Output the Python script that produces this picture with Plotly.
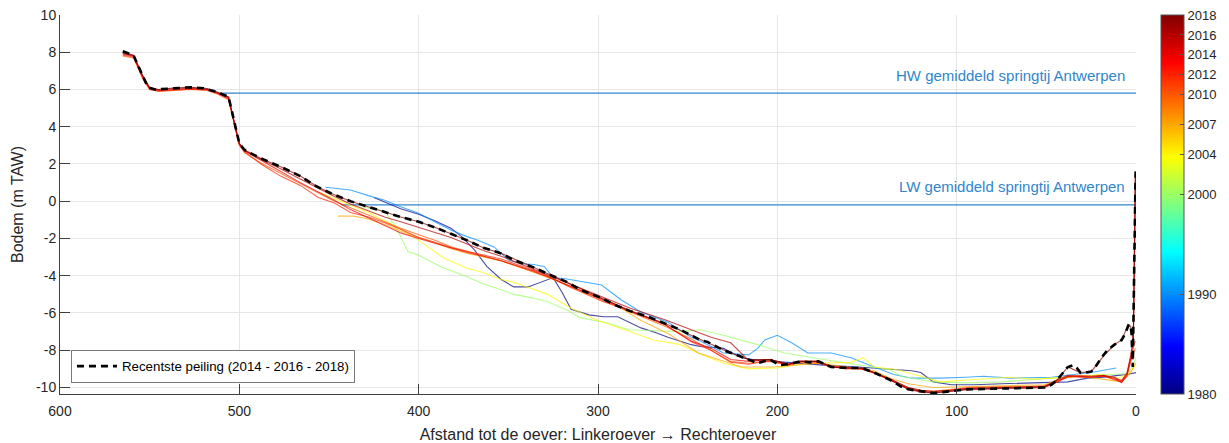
import plotly.graph_objects as go
from plotly.colors import sample_colorscale

# ---------------- data ----------------
years = [1980, 1990, 2000, 2004, 2007, 2010, 2012, 2014, 2016, 2018]
cbar_ticks = [1980, 1990, 2000, 2004, 2007, 2010, 2012, 2014, 2016, 2018]

hw_level = 5.8
lw_level = -0.2
hw_start = 509
lw_start = 443

x_1980 = [425, 410, 400, 391, 382, 376, 369, 362, 354, 347, 339, 332, 325, 320, 315, 305, 297, 289, 282, 276, 268, 261, 248, 243, 235, 230, 220, 210, 202, 190, 174, 155, 140, 131, 125, 120, 113, 103, 90, 75, 60, 50, 38, 27, 18, 10, 5, 0]
y_1980 = [0.2, -0.4, -0.7, -1.05, -1.45, -1.9, -2.6, -3.5, -4.2, -4.6, -4.6, -4.35, -4.1, -4.9, -5.8, -6.1, -6.2, -6.2, -6.5, -6.8, -7.05, -7.3, -7.7, -7.8, -7.85, -7.9, -8.4, -8.55, -8.6, -8.7, -8.8, -8.9, -9.0, -9.05, -9.1, -9.2, -9.7, -9.85, -9.85, -9.8, -9.75, -9.7, -9.7, -9.5, -9.45, -9.35, -9.3, -9.2]

x_1990 = [452, 438, 428, 419, 410, 400, 391, 382, 373, 367, 358, 350, 343, 336, 330, 325, 319, 310, 298, 287, 276, 261, 248, 243, 230, 216, 211, 207, 200, 192, 183, 170, 159, 146, 135, 125, 109, 95, 85, 70, 47, 35, 25, 11]
y_1990 = [0.75, 0.6, 0.3, 0.05, -0.3, -0.65, -1.1, -1.55, -1.9, -2.1, -2.45, -3.15, -3.35, -3.4, -3.5, -4.1, -4.15, -4.3, -4.5, -5.3, -5.95, -6.5, -7.3, -7.5, -8.15, -8.25, -7.9, -7.45, -7.2, -7.6, -8.15, -8.15, -8.4, -8.9, -9.3, -9.5, -9.5, -9.45, -9.4, -9.5, -9.45, -9.3, -9.2, -8.95]

x_2000 = [432, 421, 418, 414, 410, 406, 400, 388, 373, 365, 354, 347, 336, 328, 317, 310, 294, 283, 269, 254, 243, 230, 211, 196, 174, 155, 137, 131, 113, 94, 75, 47, 20, 5, 2, 0]
y_2000 = [-0.3, -0.5, -0.65, -1.2, -1.9, -2.7, -2.9, -3.5, -4.05, -4.4, -4.75, -5.0, -5.2, -5.4, -5.85, -6.25, -6.55, -6.9, -6.95, -7.0, -6.9, -7.2, -7.7, -8.15, -8.5, -8.8, -9.05, -9.4, -9.7, -9.75, -9.7, -9.5, -9.35, -9.25, -8.9, -8.4]

x_2004 = [455, 451, 440, 428, 410, 400, 386, 373, 365, 354, 347, 328, 315, 300, 285, 269, 254, 243, 230, 216, 200, 183, 159, 152, 146, 133, 120, 109, 94, 71, 57, 38, 20, 10, 3, 0]
y_2004 = [0.45, 0.3, -0.15, -0.6, -1.5, -2.1, -3.05, -3.6, -3.8, -4.2, -4.35, -5.0, -5.75, -6.4, -6.9, -7.45, -7.7, -8.2, -8.7, -9.0, -8.95, -8.7, -8.65, -8.4, -8.9, -9.05, -9.4, -9.7, -9.6, -9.45, -9.55, -9.45, -9.3, -9.5, -9.2, -8.7]

x_2007 = [445, 436, 428, 419, 410, 400, 391, 382, 373, 364, 354, 336, 317, 298, 291, 276, 261, 244, 230, 220, 202, 190, 177, 161, 146, 137, 127, 113, 94, 75, 51, 44, 35, 23, 14, 8, 3, 0]
y_2007 = [-0.8, -0.8, -0.95, -1.25, -1.6, -1.95, -2.25, -2.55, -2.8, -3.0, -3.2, -3.8, -4.5, -5.2, -5.5, -6.4, -7.1, -8.15, -8.6, -8.9, -8.9, -8.8, -8.7, -8.9, -9.1, -9.5, -9.8, -10.0, -9.95, -9.9, -9.85, -9.6, -9.4, -9.5, -9.6, -9.7, -9.2, -8.7]

x_red = [565, 559, 554, 550, 545, 537, 527, 518, 512, 506, 504, 502, 500, 497, 488, 477, 466, 456, 447, 438, 428, 419, 410, 400, 391, 382, 373, 364, 354, 336, 328, 317, 298, 282, 263, 248, 237, 226, 216, 204, 194, 187, 177, 170, 161, 153, 146, 137, 127, 120, 113, 103, 94, 75, 60, 51, 44, 38, 31, 25, 18, 12, 8, 5, 3, 1.5, 0.8, 0.3]
y_2010 = [7.8, 7.7, 6.6, 6.0, 5.9, 5.95, 6.0, 5.95, 5.75, 5.45, 4.6, 3.7, 3.0, 2.6, 2.05, 1.5, 0.95, 0.45, 0.0, -0.35, -0.75, -1.1, -1.45, -1.8, -2.1, -2.45, -2.7, -2.95, -3.2, -3.8, -4.05, -4.5, -5.3, -5.95, -6.7, -7.4, -8.0, -8.6, -8.7, -8.6, -8.8, -8.65, -8.7, -8.9, -9.0, -9.0, -9.25, -9.6, -10.0, -10.15, -10.2, -10.1, -10.0, -9.95, -9.95, -9.9, -9.7, -9.4, -9.35, -9.4, -9.4, -9.55, -9.6, -9.3, -8.6, -8.2, -8.0, -7.9]
y_2012 = [7.85, 7.75, 6.65, 6.0, 5.92, 5.97, 6.02, 5.97, 5.78, 5.5, 4.65, 3.75, 3.05, 2.65, 2.0, 1.35, 0.85, 0.2, -0.1, -0.6, -0.85, -1.15, -1.5, -1.95, -2.2, -2.5, -2.7, -2.9, -3.1, -3.7, -4.0, -4.55, -5.35, -5.9, -6.6, -7.55, -8.0, -8.65, -8.75, -8.55, -8.8, -8.6, -8.65, -8.85, -8.95, -9.0, -9.2, -9.55, -10.05, -10.2, -10.25, -10.15, -10.05, -10.0, -9.95, -9.95, -9.65, -9.45, -9.4, -9.45, -9.35, -9.6, -9.7, -9.4, -8.5, -7.8, -7.6, -7.5]
y_2014 = [7.9, 7.8, 6.7, 6.05, 5.95, 6.0, 6.05, 6.0, 5.8, 5.55, 4.7, 3.8, 3.1, 2.7, 2.2, 1.6, 1.0, 0.5, 0.05, -0.45, -0.9, -1.3, -1.7, -2.0, -2.25, -2.5, -2.75, -2.95, -3.2, -3.75, -4.05, -4.5, -5.25, -5.85, -6.6, -7.5, -7.9, -8.5, -8.6, -8.5, -8.75, -8.6, -8.6, -8.9, -8.95, -9.0, -9.2, -9.6, -10.1, -10.25, -10.3, -10.2, -10.1, -10.05, -10.0, -10.0, -9.7, -9.4, -9.45, -9.45, -9.4, -9.5, -9.75, -9.3, -8.4, -7.5, -3.0, 1.5]
y_2016 = [7.95, 7.82, 6.75, 6.08, 5.98, 6.05, 6.08, 6.02, 5.82, 5.58, 4.7, 3.8, 3.1, 2.72, 2.25, 1.75, 1.2, 0.7, 0.25, -0.15, -0.5, -0.85, -1.1, -1.4, -1.65, -1.95, -2.3, -2.65, -2.95, -3.65, -3.95, -4.4, -5.15, -5.75, -6.35, -6.9, -7.3, -7.6, -8.55, -8.5, -8.75, -8.6, -8.6, -8.9, -8.95, -8.95, -9.2, -9.55, -10.0, -10.15, -10.2, -10.15, -10.05, -10.0, -9.95, -9.95, -9.6, -9.35, -9.4, -9.4, -9.35, -9.45, -9.65, -9.2, -8.3, -7.4, -2.0, 1.5]
y_2018 = [8.0, 7.84, 6.77, 6.1, 6.0, 6.08, 6.12, 6.05, 5.85, 5.6, 4.73, 3.82, 3.1, 2.75, 2.3, 1.85, 1.35, 0.75, 0.35, 0.0, -0.3, -0.6, -0.85, -1.1, -1.4, -1.75, -2.1, -2.5, -2.8, -3.55, -3.9, -4.35, -5.2, -5.9, -6.55, -7.2, -7.65, -8.15, -8.5, -8.5, -8.75, -8.6, -8.6, -8.9, -8.95, -8.95, -9.2, -9.6, -10.1, -10.2, -10.3, -10.2, -10.1, -10.05, -10.0, -10.0, -9.6, -8.9, -9.2, -9.15, -8.3, -7.7, -7.45, -6.8, -6.7, -7.5, -2.0, 1.6]

x_recent = [565, 562, 559, 557, 554, 551, 547, 537, 527, 520, 512, 506, 504, 502, 500, 497, 488, 477, 466, 458, 449, 438, 428, 419, 410, 400, 391, 382, 373, 364, 354, 347, 336, 328, 317, 310, 298, 291, 282, 272, 263, 254, 248, 243, 239, 230, 220, 211, 204, 199, 194, 187, 182, 177, 170, 161, 153, 146, 137, 131, 127, 124, 118, 113, 108, 103, 94, 85, 75, 68, 60, 51, 47, 44, 41, 38, 35, 33, 31, 28, 25, 22, 20, 16, 12, 8, 6, 4, 3, 2.5, 1.8, 1.2, 0.6, 0.2]
y_recent = [8.05, 7.95, 7.84, 7.4, 6.77, 6.12, 6.0, 6.08, 6.12, 6.07, 5.85, 5.6, 4.73, 3.82, 3.1, 2.75, 2.3, 1.85, 1.35, 0.85, 0.43, 0.0, -0.3, -0.6, -0.85, -1.1, -1.4, -1.75, -2.1, -2.5, -2.8, -3.15, -3.55, -3.9, -4.35, -4.75, -5.2, -5.55, -5.9, -6.2, -6.55, -6.9, -7.2, -7.45, -7.55, -8.0, -8.35, -8.7, -8.5, -8.8, -8.75, -8.6, -8.65, -8.6, -8.9, -8.95, -8.95, -9.2, -9.6, -9.95, -10.1, -10.15, -10.25, -10.3, -10.25, -10.2, -10.1, -10.08, -10.05, -10.02, -10.0, -10.0, -9.85, -9.6, -9.25, -8.9, -8.8, -8.95, -9.2, -9.2, -9.15, -8.8, -8.5, -8.0, -7.7, -7.45, -7.1, -6.6, -6.7, -7.1, -8.9, -5.0, -1.0, 1.6]

profiles = [
    (1980, x_1980, y_1980),
    (1990, x_1990, y_1990),
    (2000, x_2000, y_2000),
    (2004, x_2004, y_2004),
    (2007, x_2007, y_2007),
    (2010, x_red, y_2010),
    (2012, x_red, y_2012),
    (2014, x_red, y_2014),
    (2016, x_red, y_2016),
    (2018, x_red, y_2018),
]
for yr, xs, ys in profiles:
    assert len(xs) == len(ys), (yr, len(xs), len(ys))
assert len(x_recent) == len(y_recent), (len(x_recent), len(y_recent))

# ---------------- style ----------------
FONT = "Liberation Sans, Arial, Helvetica, sans-serif"
TXT = "#262626"
jet = [[0.0, "rgb(0,0,128)"], [0.125, "rgb(0,0,255)"], [0.375, "rgb(0,255,255)"],
       [0.625, "rgb(255,255,0)"], [0.875, "rgb(255,0,0)"], [1.0, "rgb(128,0,0)"]]
cmin, cmax = 1980, 2018
ref_blue = "#2f86cc"

fig = go.Figure()

# HW / LW reference lines
fig.add_trace(go.Scatter(x=[hw_start, 0], y=[hw_level, hw_level], mode="lines",
                         line=dict(color=ref_blue, width=1.2), showlegend=False, hoverinfo="skip"))
fig.add_trace(go.Scatter(x=[lw_start, 0], y=[lw_level, lw_level], mode="lines",
                         line=dict(color=ref_blue, width=1.2), showlegend=False, hoverinfo="skip"))

for yr, xs, ys in profiles:
    col = sample_colorscale(jet, [(yr - cmin) / (cmax - cmin)])[0]
    fig.add_trace(go.Scatter(x=xs, y=ys, mode="lines", name=str(yr),
                             line=dict(color=col, width=1.1), opacity=0.7,
                             showlegend=False))

fig.add_trace(go.Scatter(x=x_recent, y=y_recent, mode="lines",
                         name="Recentste peiling (2014 - 2016 - 2018)",
                         line=dict(color="black", width=2.6, dash="7px,5px"),
                         showlegend=True))

# colorbar carrier
fig.add_trace(go.Scatter(x=[None], y=[None], mode="markers", showlegend=False, hoverinfo="skip",
                         marker=dict(color=[cmin], colorscale=jet, cmin=cmin, cmax=cmax, showscale=True,
                                     colorbar=dict(x=1.0232, xanchor="left", xref="paper", xpad=0,
                                                   y=0.5, yanchor="middle", len=1, lenmode="fraction", ypad=0,
                                                   thickness=23, outlinecolor="#555555", outlinewidth=1,
                                                   tickvals=cbar_ticks, ticktext=[str(t) for t in cbar_ticks],
                                                   ticks="inside", ticklen=4, tickcolor="#555555",
                                                   tickfont=dict(family=FONT, size=13, color=TXT)))))

fig.add_annotation(x=5.3, y=6.76, xref="x", yref="y", text="HW gemiddeld springtij Antwerpen",
                   showarrow=False, xanchor="right", yanchor="middle",
                   font=dict(family=FONT, size=15, color=ref_blue))
fig.add_annotation(x=5.3, y=0.8, xref="x", yref="y", text="LW gemiddeld springtij Antwerpen",
                   showarrow=False, xanchor="right", yanchor="middle",
                   font=dict(family=FONT, size=15, color=ref_blue))

yticks = list(range(-10, 11, 2))
fig.update_layout(
    width=1229, height=443,
    margin=dict(l=60, r=93, t=15, b=49, autoexpand=False),
    paper_bgcolor="white", plot_bgcolor="white",
    font=dict(family=FONT, size=13, color=TXT),
    xaxis=dict(range=[600, 0], tickvals=[600, 500, 400, 300, 200, 100, 0], automargin=False,
               showgrid=True, gridcolor="#e6e6e6", gridwidth=1, zeroline=False,
               showline=True, linecolor="#404040", linewidth=1, mirror=False,
               ticks="inside", ticklen=10, tickcolor="#404040", ticklabelstandoff=4,
               tickfont=dict(size=14, color=TXT),
               title=dict(text="Afstand tot de oever: Linkeroever \u2192 Rechteroever",
                          font=dict(size=16, color=TXT), standoff=14)),
    yaxis=dict(range=[-10.35, 10], tickvals=yticks, ticktext=[str(v) for v in yticks], automargin=False,
               showgrid=True, gridcolor="#e6e6e6", gridwidth=1, zeroline=False,
               showline=True, linecolor="#404040", linewidth=1, mirror=False,
               ticks="inside", ticklen=10, tickcolor="#404040",
               tickfont=dict(size=14, color=TXT),
               title=dict(text="Bodem (m TAW)", font=dict(size=16, color=TXT), standoff=8)),
    legend=dict(x=0.0102, y=0.029, xanchor="left", yanchor="bottom",
                bgcolor="white", bordercolor="#7a7a7a", borderwidth=1,
                font=dict(family=FONT, size=13.3, color="black"),
                tracegroupgap=0, itemwidth=40),
    showlegend=True,
)

fig.write_html("out.html", config={"displayModeBar": False},
               post_script="document.body.style.margin='0';document.body.style.overflow='hidden';")
